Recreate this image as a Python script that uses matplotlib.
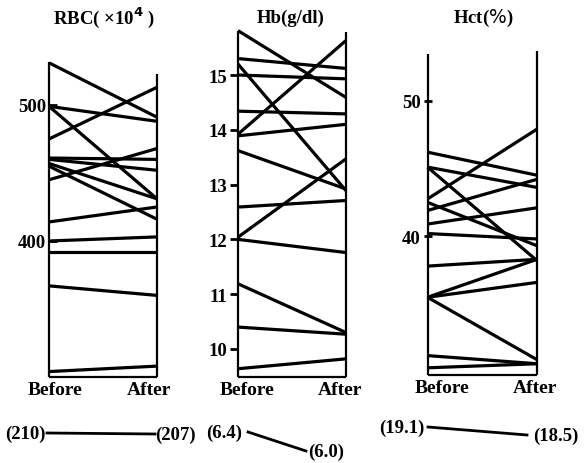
import numpy as np
import matplotlib
matplotlib.use("Agg")
import matplotlib.pyplot as plt

# ----------------------------
# Data
# ----------------------------

rbc_before = [531, 475, 499, 499, 461, 460, 457, 445, 455, 414, 400, 392, 367, 304]
rbc_after = [491, 513, 488, 431, 460, 452, 431, 468, 416, 425, 403, 392, 360, 308]

hb_before = [15.81, 15.30, 15.20, 15.00, 13.92, 14.34, 13.89, 13.62, 12.59, 12.04, 12.00, 11.19, 10.40, 9.64]
hb_after = [14.59, 15.12, 12.89, 14.93, 15.63, 14.29, 14.10, 12.92, 12.71, 13.47, 11.76, 10.30, 10.27, 9.82]

hct_before = [46.2, 45.1, 45.1, 42.75, 41.9, 42.5, 40.9, 40.2, 37.8, 35.5, 35.5, 35.5, 31.2, 30.3]
hct_after = [44.5, 43.6, 38.2, 47.9, 44.2, 39.3, 42.1, 39.8, 38.3, 38.3, 36.6, 30.9, 30.6, 30.6]

titles = ["RBC( ×10$^{\\mathbf{4}}$ )", "Hb(g/dl)", "Hct($\\%$)"]
yticks = [[400, 500], [10, 11, 12, 13, 14, 15], [40, 50]]
xlabels = ["Before", "After"]

mean_before = ["(210)", "(6.4)", "(19.1)"]
mean_after = ["(207)", "(6.0)", "(18.5)"]

# ----------------------------
# Layout (pixels in a 586x464 figure)
# ----------------------------

W, H = 586, 464
FONT = "Liberation Serif"

# left, right, top, bottom pixels; ylim; spine tops (left, right); tick dir
panels = [
    dict(box=(49, 157, 63, 378), ylim=(300, 531.6), tops=(531.6, 522.8), tdir="in",
         xt=(0.06, 0.93), title_x=104),
    dict(box=(238, 346, 32, 378), ylim=(9.489, 15.803), tops=(15.803, 15.785), tdir="out",
         xt=(0.08, 0.94), title_x=291),
    dict(box=(427.5, 537, 52, 376), ylim=(29.77, 53.66), tops=(53.44, 53.66), tdir="inout",
         xt=(0.13, 0.98), title_x=483),
]

series = [(rbc_before, rbc_after), (hb_before, hb_after), (hct_before, hct_after)]

fig = plt.figure(figsize=(W / 100, H / 100), dpi=100)

for i, (p, (bef, aft)) in enumerate(zip(panels, series)):
    l, r, t, b = p["box"]
    ax = fig.add_axes([l / W, (H - b) / H, (r - l) / W, (b - t) / H])
    ax.set_xlim(0, 1)
    ax.set_ylim(*p["ylim"])
    for s in ax.spines.values():
        s.set_visible(False)

    # paired lines
    for y0, y1 in zip(bef, aft):
        ax.plot([0, 1], [y0, y1], color="black", lw=2.3, solid_capstyle="butt", clip_on=False)

    # frame: two verticals and the bottom
    lo = p["ylim"][0]
    ax.vlines([0, 1], lo, p["tops"], color="black", lw=1.6, clip_on=False)
    ax.hlines(lo, 0, 1, color="black", lw=1.6, clip_on=False)

    ax.set_yticks(yticks[i])
    ax.set_yticklabels([str(v) for v in yticks[i]], fontfamily=FONT, fontweight="bold", fontsize=13.5)
    ax.tick_params(axis="y", direction=p["tdir"], length=6, width=2, pad=2)

    ax.set_xticks(p["xt"])
    ax.set_xticklabels(xlabels, fontfamily=FONT, fontweight="bold", fontsize=14)
    ax.tick_params(axis="x", length=0, pad=3)

    fig.text(p["title_x"] / W, 1 - 18 / H, titles[i], ha="center", va="center",
             fontfamily=FONT, fontweight="bold", fontsize=13.5)

# bottom summary line: label pairs joined by a line
summary = [
    dict(bx=25, by=434, ax_=175, ay=435, l0=47, l1=155),
    dict(bx=224, by=433, ax_=326, ay=452, l0=248, l1=306),
    dict(bx=402, by=428, ax_=556, ay=436, l0=428, l1=527),
]
ov = fig.add_axes([0, 0, 1, 1])
ov.set_xlim(0, W)
ov.set_ylim(H, 0)
ov.axis("off")
for k, s in enumerate(summary):
    ov.text(s["bx"], s["by"], mean_before[k], ha="center", va="center",
            fontfamily=FONT, fontweight="bold", fontsize=13.5)
    ov.text(s["ax_"], s["ay"], mean_after[k], ha="center", va="center",
            fontfamily=FONT, fontweight="bold", fontsize=13.5)
    ov.plot([s["l0"], s["l1"]], [s["by"], s["ay"]], color="black", lw=2.0)

fig.savefig("out.png", dpi=100)
